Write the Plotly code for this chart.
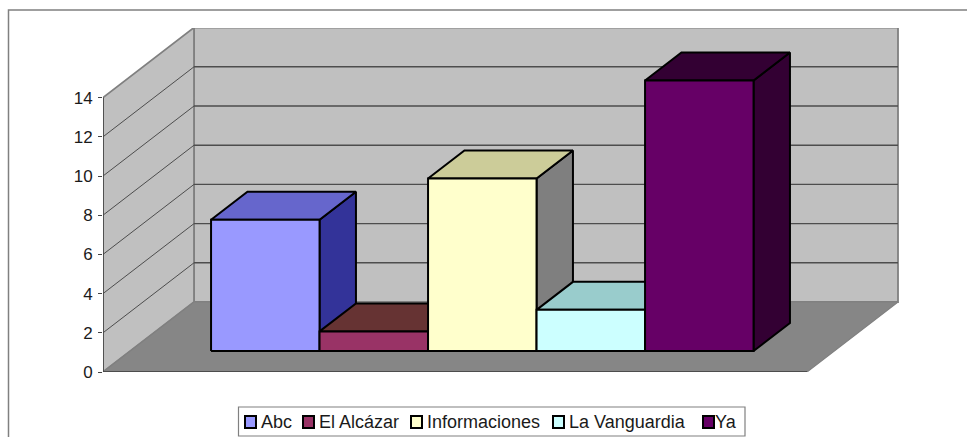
import plotly.graph_objects as go

# --- data ---
categories = ["Abc", "El Alcázar", "Informaciones", "La Vanguardia", "Ya"]
values = [6.7, 1.0, 8.8, 2.1, 13.8]
y_ticks = [0, 2, 4, 6, 8, 10, 12, 14]
front_colors = ["#9999FF", "#993366", "#FFFFCC", "#CCFFFF", "#660066"]
top_colors = ["#6666CC", "#663333", "#CCCC99", "#99CCCC", "#330033"]
side_colors = ["#333399", "#4D1A33", "#7F7F7F", "#669999", "#330033"]

# --- layout constants (pixels of the 967x437 page) ---
W, H = 967, 437
L, R, T, B = 103, 899, 28, 372
PX_X = 108.5          # pixels per bar width
PX_Y = 19.6           # pixels per value unit
DEPTH_X = 91 / PX_X   # oblique shift of the full floor depth, in x units
DEPTH_Y = 70 / PX_Y   # ... and in y units
FLOOR_W = 704 / PX_X
BAR_D0, BAR_D1 = 0.30, 0.70
BAR_X0 = (FLOOR_W - len(values)) / 2
FONT = "Liberation Sans, Arial, sans-serif"
TXT = "#1A1A1A"


def proj(x, y, d):
    return x + d * DEPTH_X, y + d * DEPTH_Y


def poly(points, fill, line="#000000", width=2):
    pts = [proj(*p) for p in points] + [proj(*points[0])]
    return go.Scatter(x=[p[0] for p in pts], y=[p[1] for p in pts], mode="lines",
                      fill="toself", fillcolor=fill, line=dict(color=line, width=width),
                      hoverinfo="skip", showlegend=False, cliponaxis=False)


def seg(a, b, color, width):
    pa, pb = proj(*a), proj(*b)
    return go.Scatter(x=[pa[0], pb[0]], y=[pa[1], pb[1]], mode="lines",
                      line=dict(color=color, width=width), hoverinfo="skip",
                      showlegend=False, cliponaxis=False)


top = y_ticks[-1]
fig = go.Figure()
WALL, FLOOR, EDGE = "#C0C0C0", "#868686", "#808080"
fig.add_trace(poly([(0, 0, 1), (FLOOR_W, 0, 1), (FLOOR_W, top, 1), (0, top, 1)], WALL, EDGE, 1.8))
fig.add_trace(poly([(0, 0, 0), (0, 0, 1), (0, top, 1), (0, top, 0)], WALL, EDGE, 1.8))
fig.add_trace(poly([(0, 0, 0), (FLOOR_W, 0, 0), (FLOOR_W, 0, 1), (0, 0, 1)], FLOOR, EDGE, 1.2))
for t in y_ticks[1:-1]:
    fig.add_trace(seg((0, t, 1), (FLOOR_W, t, 1), "#4D4D4D", 1.4))
    fig.add_trace(seg((0, t, 0), (0, t, 1), "#4D4D4D", 1))
fig.add_trace(seg((0, 0, 0), (FLOOR_W, 0, 0), "#4D4D4D", 1.8))
fig.add_trace(seg((0, 0, 0), (0, top, 0), "#444444", 1.6))

for i, v in enumerate(values):
    x0, x1 = BAR_X0 + i, BAR_X0 + i + 1
    fig.add_trace(poly([(x1, 0, BAR_D0), (x1, 0, BAR_D1), (x1, v, BAR_D1), (x1, v, BAR_D0)], side_colors[i]))
    fig.add_trace(poly([(x0, v, BAR_D0), (x1, v, BAR_D0), (x1, v, BAR_D1), (x0, v, BAR_D1)], top_colors[i]))
    fig.add_trace(poly([(x0, 0, BAR_D0), (x1, 0, BAR_D0), (x1, v, BAR_D0), (x0, v, BAR_D0)], front_colors[i]))


def px(x):
    return (x - L) / (R - L)


def py(y):
    return (B - y) / (B - T)


shapes = [
    # outer chart frame, running off the page at the right and bottom
    dict(type="rect", xref="paper", yref="paper", x0=px(8.5), x1=px(W + 20), y0=py(H + 20), y1=py(10),
         line=dict(color="#808080", width=1.5), fillcolor="rgba(0,0,0,0)", layer="below"),
    # legend box
    dict(type="rect", xref="paper", yref="paper", x0=px(238.5), x1=px(745), y0=py(436), y1=py(407),
         line=dict(color="#808080", width=1.2), fillcolor="#FFFFFF"),
]
annotations = []
icon_x = [245, 303, 411, 553, 703]
text_x = [259, 317, 425, 567, 713]
for name, c, ix, tx in zip(categories, front_colors, icon_x, text_x):
    shapes.append(dict(type="rect", xref="paper", yref="paper", x0=px(ix), x1=px(ix + 11),
                       y0=py(428), y1=py(416), line=dict(color="#000000", width=2), fillcolor=c))
    annotations.append(dict(text=name, xref="paper", yref="paper", x=px(tx), y=py(421.5), xanchor="left",
                            yanchor="middle", showarrow=False, font=dict(family=FONT, size=18, color=TXT)))

fig.update_layout(
    width=W, height=H, autosize=False, showlegend=False,
    margin=dict(l=L, r=W - R, t=T, b=H - B, pad=0),
    paper_bgcolor="#FFFFFF", plot_bgcolor="#FFFFFF",
    shapes=shapes, annotations=annotations,
    xaxis=dict(range=[0, (R - L) / PX_X], visible=False, fixedrange=True),
    yaxis=dict(range=[0, (B - T) / PX_Y], tickmode="array", tickvals=y_ticks, ticks="outside",
               ticklen=4, tickwidth=1, tickcolor="#444444", showgrid=False, zeroline=False,
               showline=False, ticklabelstandoff=2, fixedrange=True,
               tickfont=dict(family=FONT, size=17, color=TXT)),
)
fig.write_html("out.html", config={"displayModeBar": False},
               post_script="document.documentElement.style.overflow='hidden';document.body.style.margin='0';")
